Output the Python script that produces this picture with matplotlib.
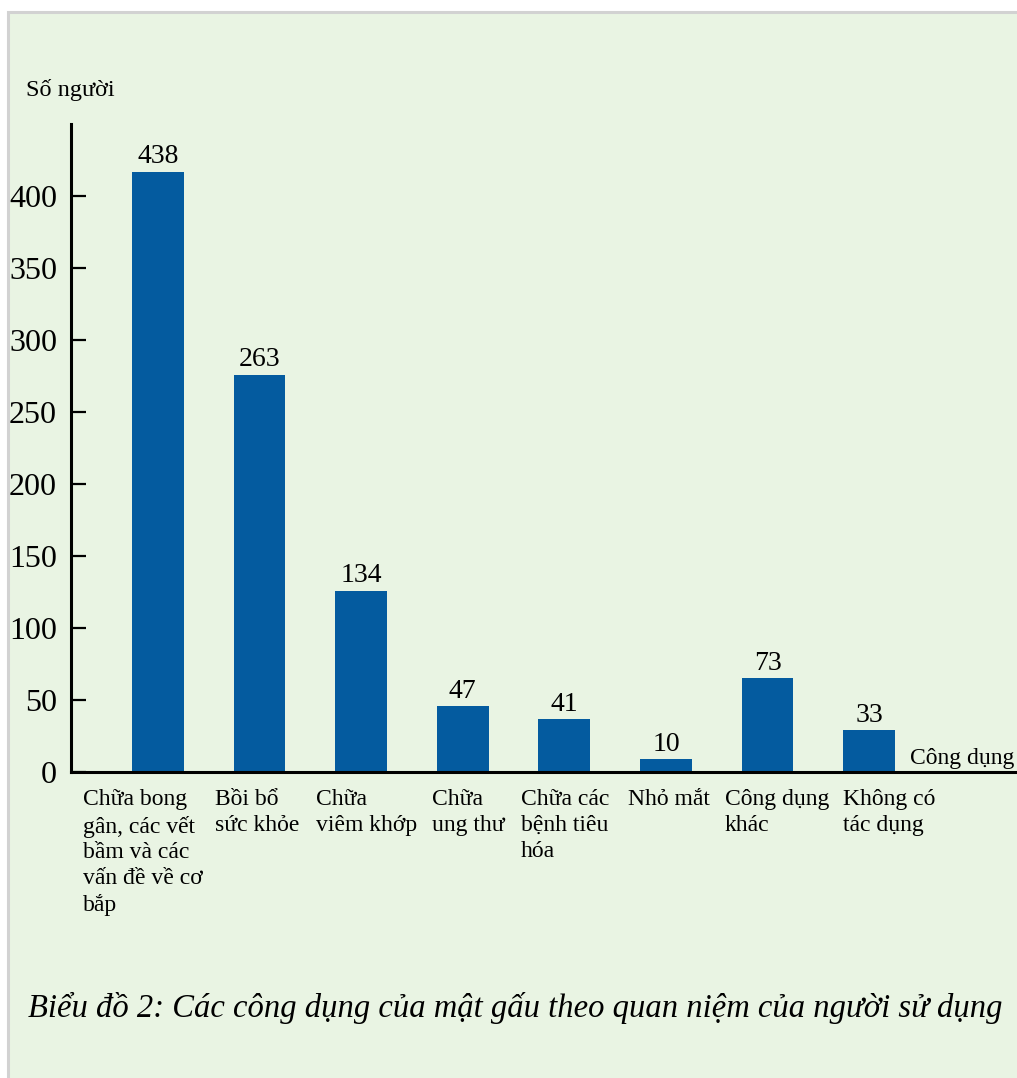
import matplotlib.pyplot as plt
import matplotlib.transforms as mtransforms
from matplotlib.patches import Rectangle

# ── Data ─────────────────────────────────────────────────────────────────────
CATEGORIES = [
    'Chữa bong\ngân, các vết\nbầm và các\nvấn đề về cơ\nbắp',
    'Bồi bổ\nsức khỏe',
    'Chữa\nviêm khớp',
    'Chữa\nung thư',
    'Chữa các\nbệnh tiêu\nhóa',
    'Nhỏ mắt',
    'Công dụng\nkhác',
    'Không có\ntác dụng',
]
# bar heights as drawn on the y scale of the source picture
BAR_HEIGHTS = [417, 276, 126, 46, 37, 9, 65, 29]
# numbers printed above the bars
VALUE_LABELS = ['438', '263', '134', '47', '41', '10', '73', '33']
Y_TICKS = [0, 50, 100, 150, 200, 250, 300, 350, 400]

Y_TITLE = 'Số người'
X_TITLE = 'Công dụng'
CAPTION = 'Biểu đồ 2: Các công dụng của mật gấu theo quan niệm của người sử dụng'

# ── Style ────────────────────────────────────────────────────────────────────
BG = '#E9F4E3'
BAR_COLOR = '#045B9F'
FONT = ['Liberation Serif', 'DejaVu Serif']
# horizontal shift (in bar-slot units) of each category label's left edge
LABEL_DX = [-0.738, -0.439, -0.445, -0.303, -0.427, -0.374, -0.419, -0.258]

plt.rcParams['font.family'] = FONT

W, H = 1017, 1078
fig = plt.figure(figsize=(W / 100, H / 100), dpi=100, facecolor='white')

# panel background with a grey frame on the top/left
fig.patches.append(Rectangle((8 / W, -0.1), 1.2, 1.1 - 12 / H, transform=fig.transFigure,
                             facecolor=BG, edgecolor='#D2D2D2', linewidth=2.2,
                             zorder=-5))

ax = fig.add_axes([71 / W, 1 - 772 / H, 959 / W, 648 / H])
ax.set_facecolor('none')
ax.set_zorder(2)

x = list(range(len(CATEGORIES)))
ax.bar(x, BAR_HEIGHTS, width=0.51, color=BAR_COLOR, zorder=2)
for xi, h, lab in zip(x, BAR_HEIGHTS, VALUE_LABELS):
    ax.annotate(lab, (xi, h), xytext=(0, 1.5), textcoords='offset points',
                ha='center', va='bottom', fontsize=20)

ax.set_xlim(-0.856, -0.856 + 959 / 101.6)
ax.set_ylim(0, 450)

for s in ['top', 'right']:
    ax.spines[s].set_visible(False)
ax.spines['left'].set_linewidth(2.2)
ax.spines['bottom'].set_linewidth(2.2)

ax.set_yticks(Y_TICKS)
ax.set_yticklabels([str(t) for t in Y_TICKS])
ax.tick_params(axis='y', direction='in', length=11, width=1.6, labelsize=23, pad=10)
ax.set_xticks([])

trans = mtransforms.blended_transform_factory(ax.transData, ax.transAxes)
for xi, dx, lab in zip(x, LABEL_DX, CATEGORIES):
    ax.text(xi + dx, -0.027, lab, transform=trans, ha='left', va='top',
            fontsize=17, linespacing=1.3, clip_on=False)

ax.text(7.40, 0.004, X_TITLE, transform=trans, ha='left', va='bottom', fontsize=17,
        clip_on=False)
fig.text(26 / W, 1 - 90 / H, Y_TITLE, ha='left', va='center', fontsize=17.5)
fig.text(28 / W, 1 - 1008 / H, CAPTION, ha='left', va='center', fontsize=23.5,
         style='italic')

fig.savefig('out.png', dpi=100, facecolor='white')
